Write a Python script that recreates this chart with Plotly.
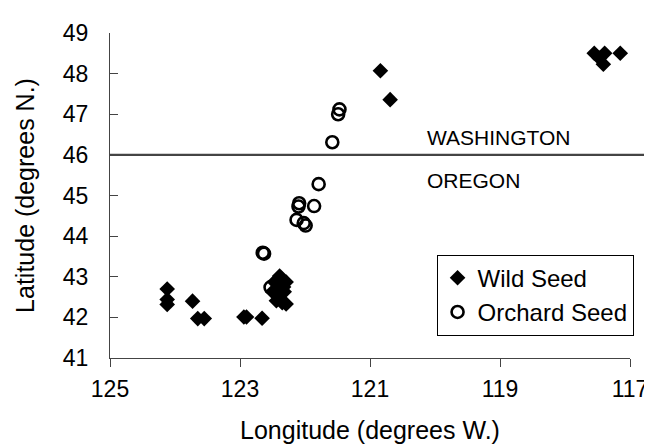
import plotly.graph_objects as go

wild_lon = [117.55, 117.47, 117.39, 117.41, 117.15,
            120.84, 120.69,
            124.12, 124.12, 124.12, 123.73, 123.65, 123.55, 122.94, 122.90, 122.66,
            122.39, 122.47, 122.29, 122.50, 122.32, 122.44, 122.29, 122.42, 122.36,
            122.33, 122.40, 122.35]
wild_lat = [48.50, 48.38, 48.50, 48.23, 48.50,
            48.07, 47.36,
            42.70, 42.44, 42.32, 42.40, 41.97, 41.97, 42.01, 42.01, 41.98,
            43.02, 42.87, 42.87, 42.63, 42.63, 42.41, 42.33, 42.55, 42.95,
            42.75, 42.70, 42.36]

orch_lon = [121.47, 121.49, 121.58, 121.79, 122.09, 122.10, 121.86, 122.13,
            122.02, 121.99, 122.65, 122.63, 122.53]
orch_lat = [47.12, 47.00, 46.31, 45.28, 44.81, 44.73, 44.74, 44.40,
            44.32, 44.26, 43.59, 43.57, 42.74]

border_lat = 46.0
state_labels = ["WASHINGTON", "OREGON"]
state_label_lat = [46.42, 45.38]
state_label_lon = 120.15

x_ticks = [125, 123, 121, 119, 117]
y_ticks = [41, 42, 43, 44, 45, 46, 47, 48, 49]

FONT = "Arial, Liberation Sans, sans-serif"

fig = go.Figure()
fig.add_trace(go.Scatter(
    x=orch_lon, y=orch_lat, mode="markers", name="Orchard Seed",
    legendrank=2,
    marker=dict(symbol="circle-open", size=12, color="black",
                line=dict(width=2.6, color="black")),
))
fig.add_trace(go.Scatter(
    x=wild_lon, y=wild_lat, mode="markers", name="Wild Seed",
    legendrank=1,
    marker=dict(symbol="diamond", size=12, color="black",
                line=dict(width=0)),
))

fig.add_shape(type="line", xref="paper", yref="y", x0=0, x1=1.03,
              y0=border_lat, y1=border_lat,
              line=dict(color="#444", width=2.2))

for txt, lat in zip(state_labels, state_label_lat):
    fig.add_annotation(x=state_label_lon, y=lat, text=txt, showarrow=False,
                       xanchor="left", yanchor="middle",
                       font=dict(family=FONT, size=21, color="black"))

fig.update_layout(
    width=652, height=446,
    margin=dict(l=102, r=19, t=21, b=96),
    paper_bgcolor="white", plot_bgcolor="white",
    font=dict(family=FONT, color="black"),
    showlegend=True,
    legend=dict(x=0.628, y=0.318, xanchor="left", yanchor="top",
                bordercolor="black", borderwidth=1, bgcolor="white",
                font=dict(family=FONT, size=24, color="black"),
                itemwidth=30, tracegroupgap=0),
    xaxis=dict(range=[125, 117], tickvals=x_ticks,
               ticktext=[str(v) for v in x_ticks],
               showgrid=False, zeroline=False,
               showline=True, linecolor="#444", linewidth=1.2,
               ticks="outside", ticklen=8, tickcolor="#444", tickwidth=1.2,
               ticklabelstandoff=2,
               tickfont=dict(family=FONT, size=23, color="black"),
               title=dict(text="Longitude (degrees W.)", standoff=20,
                          font=dict(family=FONT, size=25, color="black"))),
    yaxis=dict(range=[41, 49], tickvals=y_ticks,
               ticktext=[str(v) for v in y_ticks],
               showgrid=False, zeroline=False,
               showline=True, linecolor="#444", linewidth=1.2,
               ticks="inside", ticklen=8, tickcolor="#444", tickwidth=1.2,
               ticklabelstandoff=16,
               tickfont=dict(family=FONT, size=23, color="black"),
               title=dict(text="Latitude (degrees N.)", standoff=20,
                          font=dict(family=FONT, size=25, color="black"))),
)

fig.write_html("out.html")
